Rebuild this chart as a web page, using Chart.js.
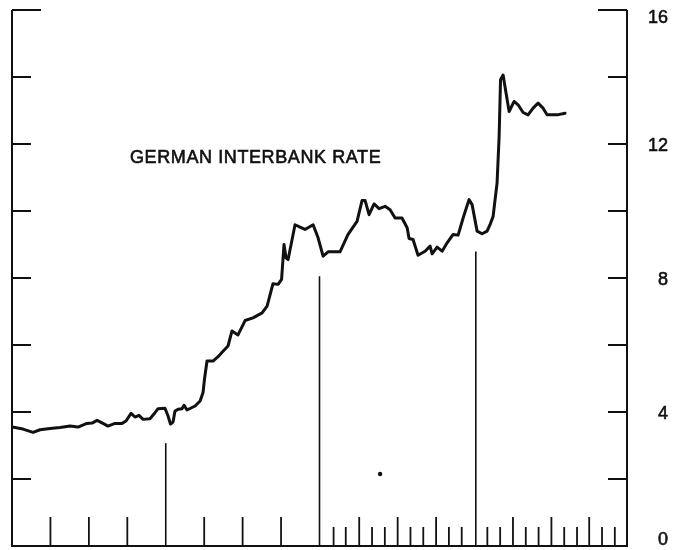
<!DOCTYPE html>
<html>
<head>
<meta charset="utf-8">
<script src="https://cdn.jsdelivr.net/npm/chart.js@4.4.1/dist/chart.umd.min.js"></script>
<style>
  body { margin: 0; background: #fff; }
  canvas { display: block; }
</style>
</head>
<body>
<canvas id="rateChart" width="686" height="550"></canvas>
<script>
// months since start of the first year on the axis, and the rate in percent
const months = [0.00, 0.86, 1.64, 2.19, 2.97, 3.75, 4.53, 5.15, 5.85, 6.25, 6.64, 7.10, 7.49, 8.04, 8.59, 8.90,
    9.29, 9.60, 9.91, 10.23, 10.77, 11.16, 11.40, 11.94, 12.18, 12.37, 12.57, 12.72, 12.96, 13.27, 13.43, 13.66,
    14.29, 14.68, 14.91, 15.03, 15.22, 15.69, 16.08, 16.49, 16.86, 17.17, 17.64, 18.19, 18.81, 19.52, 19.91, 20.37,
    20.77, 21.04, 21.23, 21.39, 21.55, 22.09, 22.48, 22.87, 23.50, 23.89, 24.28, 24.67, 25.60, 26.23, 26.93, 27.32,
    27.56, 27.87, 28.26, 28.65, 29.12, 29.51, 29.90, 30.44, 30.84, 30.99, 31.30, 31.69, 32.24, 32.63, 32.79, 33.18,
    33.57, 33.96, 34.43, 34.82, 35.21, 35.67, 35.91, 36.30, 36.69, 37.08, 37.31, 37.55, 37.86, 38.02, 38.13, 38.33,
    38.56, 38.80, 39.19, 39.50, 39.89, 40.28, 40.67, 41.06, 41.45, 41.76, 42.54, 43.17];
const rate = [3.55, 3.49, 3.39, 3.47, 3.51, 3.54, 3.58, 3.55, 3.66, 3.67, 3.75, 3.66, 3.58, 3.66, 3.66, 3.73,
    3.96, 3.85, 3.90, 3.78, 3.80, 3.98, 4.10, 4.11, 3.88, 3.64, 3.70, 4.03, 4.08, 4.10, 4.20, 4.06,
    4.18, 4.33, 4.58, 5.00, 5.52, 5.52, 5.65, 5.82, 5.97, 6.42, 6.30, 6.73, 6.81, 6.96, 7.16, 7.83,
    7.81, 7.96, 9.00, 8.60, 8.55, 9.59, 9.52, 9.45, 9.59, 9.20, 8.65, 8.78, 8.78, 9.30, 9.69, 10.31,
    10.31, 9.89, 10.21, 10.07, 10.14, 10.04, 9.79, 9.79, 9.50, 9.18, 9.15, 8.68, 8.80, 8.95, 8.72, 8.92,
    8.80, 9.05, 9.30, 9.28, 9.79, 10.34, 10.19, 9.40, 9.32, 9.40, 9.59, 9.84, 10.84, 12.23, 13.92, 14.06,
    13.52, 12.97, 13.27, 13.17, 12.94, 12.87, 13.07, 13.22, 13.07, 12.87, 12.87, 12.92];

// year boundary lines rise from the axis up to these values
const yearMonths = [12, 24, 36.2];
const yearLineTops = [3.07, 8.05, 8.79];

// bottom tick marks
const quarterTicks = [3, 6, 9, 15, 18, 21, 27.1, 30.1, 33.1, 39.1, 42.1, 45.05];
const monthTicks = [25.1, 26.05, 28.1, 29.1, 31.1, 32.1, 34.1, 35.1, 37.1, 38.1, 40.1, 41.1, 43.1, 44.1, 46.05, 47.05];

// side tick marks and right-hand labels
const sideTicks = [2, 4, 6, 8, 10, 12, 14, 16];
const labelValues = [0, 4, 8, 12, 16];
const labelTexts = ['0', '4', '8', '12', '16'];

const chartTitle = 'GERMAN INTERBANK RATE';
const strayDot = [{ x: 28.73, y: 2.15 }];

const INK = '#111';

const datasets = [{
    data: months.map((m, i) => ({ x: m, y: rate[i] })),
    borderColor: INK,
    borderWidth: 3,
    borderJoinStyle: 'round',
    borderCapStyle: 'round',
    pointRadius: 0,
    tension: 0
}];

yearMonths.forEach((m, i) => {
    datasets.push({
        data: [{ x: m, y: 0 }, { x: m, y: yearLineTops[i] }],
        borderColor: INK,
        borderWidth: 1.6,
        pointRadius: 0
    });
});

datasets.push({
    type: 'scatter',
    data: strayDot,
    pointRadius: 2.2,
    backgroundColor: INK,
    borderWidth: 0
});

const framePlugin = {
    id: 'frame',
    beforeDatasetsDraw(chart) {
        const ctx = chart.ctx;
        const area = chart.chartArea;
        const xs = chart.scales.x;
        const ys = chart.scales.y;
        ctx.save();
        ctx.strokeStyle = INK;
        ctx.lineWidth = 2;
        ctx.lineCap = 'butt';

        // left, bottom and right axis lines
        ctx.beginPath();
        ctx.moveTo(area.left, area.top);
        ctx.lineTo(area.left, area.bottom);
        ctx.lineTo(area.right, area.bottom);
        ctx.lineTo(area.right, area.top);
        ctx.stroke();

        // inward ticks on both sides
        sideTicks.forEach(v => {
            const y = ys.getPixelForValue(v);
            const len = v === 16 ? 29 : 19;
            ctx.beginPath();
            ctx.moveTo(area.left, y);
            ctx.lineTo(area.left + len, y);
            ctx.moveTo(area.right, y);
            ctx.lineTo(area.right - len, y);
            ctx.stroke();
        });

        // bottom ticks
        ctx.lineWidth = 1.8;
        const tick = (m, len) => {
            const x = xs.getPixelForValue(m);
            ctx.beginPath();
            ctx.moveTo(x, area.bottom);
            ctx.lineTo(x, area.bottom - len);
            ctx.stroke();
        };
        quarterTicks.forEach(m => tick(m, 29));
        monthTicks.forEach(m => tick(m, 19));
        ctx.restore();
    },
    afterDraw(chart) {
        const ctx = chart.ctx;
        const area = chart.chartArea;
        const ys = chart.scales.y;
        ctx.save();
        ctx.fillStyle = INK;
        ctx.strokeStyle = INK;
        ctx.lineWidth = 0.6;
        ctx.font = '18px "Liberation Sans", Arial, sans-serif';
        ctx.textAlign = 'right';
        ctx.textBaseline = 'middle';
        labelValues.forEach((v, i) => {
            let y = ys.getPixelForValue(v) + 2;
            y = Math.min(Math.max(y, area.top + 8), area.bottom - 6);
            ctx.fillText(labelTexts[i], 668, y);
            ctx.strokeText(labelTexts[i], 668, y);
        });

        ctx.textAlign = 'left';
        ctx.textBaseline = 'alphabetic';
        ctx.letterSpacing = '0.6px';
        ctx.fillText(chartTitle, 130, 163);
        ctx.strokeText(chartTitle, 130, 163);
        ctx.restore();
    }
};

new Chart(document.getElementById('rateChart').getContext('2d'), {
    type: 'line',
    data: { datasets: datasets },
    options: {
        responsive: false,
        animation: false,
        layout: { padding: { left: 12, top: 10, right: 59, bottom: 3 } },
        plugins: {
            legend: { display: false },
            tooltip: { enabled: false }
        },
        scales: {
            x: { type: 'linear', min: 0, max: 48, display: false },
            y: { type: 'linear', min: 0, max: 16, display: false }
        }
    },
    plugins: [framePlugin]
});
</script>
</body>
</html>
